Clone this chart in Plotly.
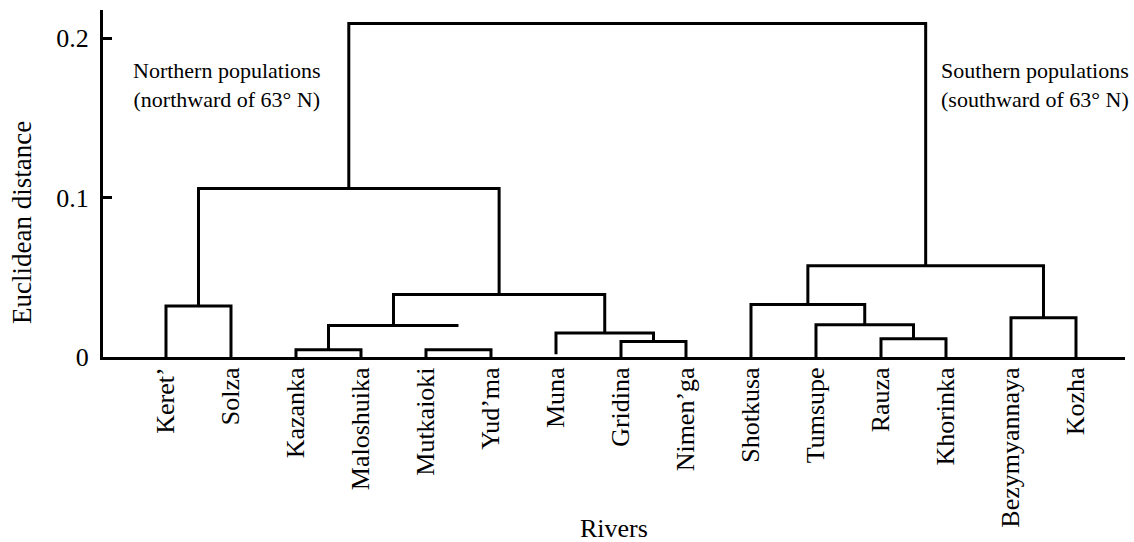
import plotly.graph_objects as go

# ---- data ----
rivers = ["Keret’", "Solza", "Kazanka", "Maloshuika", "Mutkaioki", "Yud’ma",
          "Muna", "Gridina", "Nimen’ga", "Shotkusa", "Tumsupe", "Rauza",
          "Khorinka", "Bezymyannaya", "Kozha"]

# height at which each leaf's stem starts (Muna's stem stops just above the axis)
leaf_floor = [0, 0, 0, 0, 0, 0, 0.0017, 0, 0, 0, 0, 0, 0, 0, 0]

# merges: (left node, right node, Euclidean distance); new nodes numbered from 15
merge_left = [2, 4, 15, 7, 6, 17, 0, 21, 11, 10, 9, 13, 25, 22]
merge_right = [3, 5, 16, 8, 18, 19, 1, 20, 12, 23, 24, 14, 26, 27]
merge_height = [0.0046, 0.0046, 0.0197, 0.0097, 0.0151, 0.0392, 0.0320, 0.1057,
                0.0115, 0.0203, 0.0329, 0.0247, 0.0572, 0.2094]
# the drawn dendrogram omits the right stem of this merge (node 17)
merge_right_stem = [True, True, False, True, True, True, True, True,
                    True, True, True, True, True, True]

y_ticks = [0, 0.1, 0.2]
y_ticklabels = ["0", "0.1", "0.2"]

# ---- build dendrogram segments ----
n = len(rivers)
node_x = {i: float(i) for i in range(n)}
node_h = {i: leaf_floor[i] for i in range(n)}
xs, ys = [], []
for k, (a, b, h) in enumerate(zip(merge_left, merge_right, merge_height)):
    xa, xb = node_x[a], node_x[b]
    xs += [xa, xa, xb]
    ys += [node_h[a], h, h]
    if merge_right_stem[k]:
        xs.append(xb)
        ys.append(node_h[b])
    xs.append(None)
    ys.append(None)
    new = n + k
    node_x[new] = (xa + xb) / 2
    node_h[new] = h

FONT = "Liberation Serif, Times New Roman, serif"

fig = go.Figure()
fig.add_trace(go.Scatter(x=xs, y=ys, mode="lines",
                         line=dict(color="black", width=3),
                         hoverinfo="skip", showlegend=False))

fig.update_layout(
    width=1134, height=542,
    margin=dict(l=103, r=9, t=10, b=185),
    paper_bgcolor="white", plot_bgcolor="white",
    font=dict(family=FONT, color="black"),
    showlegend=False,
    xaxis=dict(range=[-0.969, 14.754], tickmode="array",
               tickvals=list(range(n)), ticktext=rivers, tickangle=-90,
               ticks="", showline=True, linecolor="black", linewidth=3,
               showgrid=False, zeroline=False,
               tickfont=dict(family=FONT, size=26, color="black"),
               ticklabelstandoff=-3),
    yaxis=dict(range=[0, 0.2178], tickmode="array", tickvals=y_ticks,
               ticktext=y_ticklabels, ticks="inside", ticklen=9, tickwidth=2.5,
               tickcolor="black", showline=True, linecolor="black", linewidth=3,
               showgrid=False, zeroline=False,
               tickfont=dict(family=FONT, size=26, color="black"),
               ticklabelstandoff=6),
    annotations=[
        dict(text="Northern populations<br>(northward of 63° N)",
             xref="paper", yref="paper", x=0.1213, y=0.785,
             xanchor="center", yanchor="middle", showarrow=False,
             font=dict(family=FONT, size=22, color="black")),
        dict(text="Southern populations<br>(southward of 63° N)",
             xref="paper", yref="paper", x=0.912, y=0.785,
             xanchor="center", yanchor="middle", showarrow=False,
             font=dict(family=FONT, size=22, color="black")),
        dict(text="Rivers", xref="paper", yref="paper", x=0.5, y=-0.495,
             xanchor="center", yanchor="middle", showarrow=False,
             font=dict(family=FONT, size=26, color="black")),
        dict(text="Euclidean distance", xref="paper", yref="paper",
             x=-0.0793, y=0.389, textangle=-90,
             xanchor="center", yanchor="middle", showarrow=False,
             font=dict(family=FONT, size=27, color="black")),
    ],
)

fig.write_html("out.html",
               config={"displayModeBar": False},
               post_script="document.body.style.margin='0';"
                           "document.body.style.overflow='hidden';")
